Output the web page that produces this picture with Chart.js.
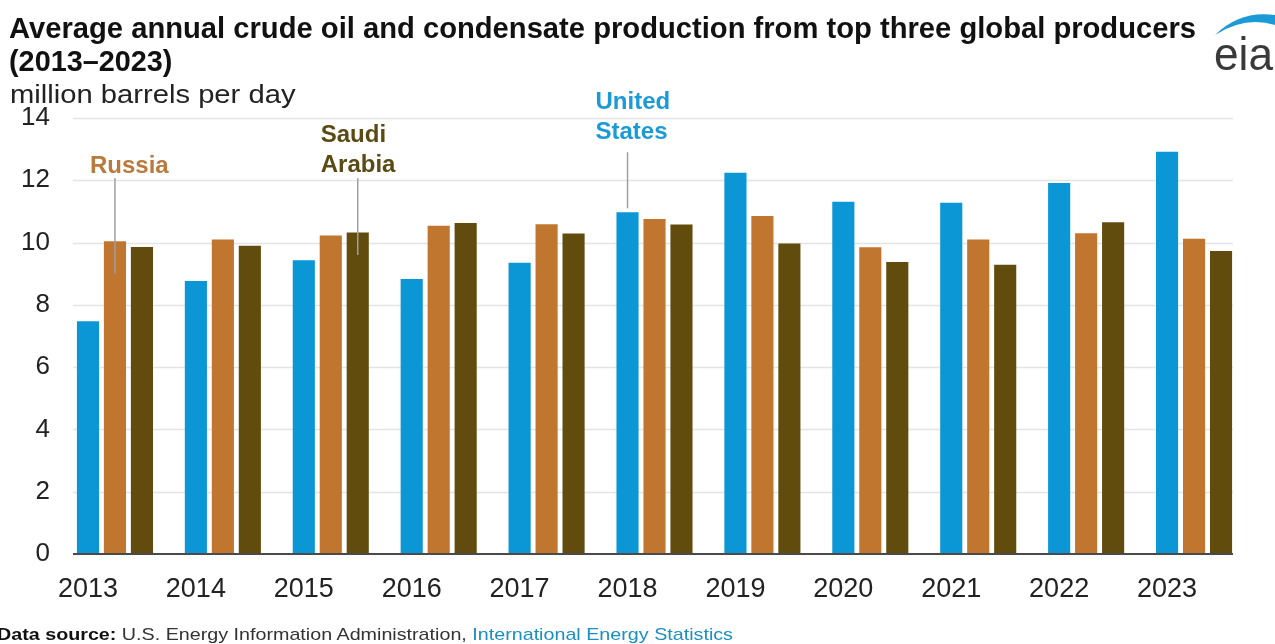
<!DOCTYPE html>
<html>
<head>
<meta charset="utf-8">
<script src="https://cdn.jsdelivr.net/npm/chart.js@4.4.0/dist/chart.umd.min.js"></script>
<style>
    html, body { margin: 0; padding: 0; background: #fff; }
    body { width: 1275px; height: 644px; position: relative; overflow: hidden; font-family: "Liberation Sans", Arial, sans-serif; }
    canvas { position: absolute; left: 0; top: 0; }
    .fit { position: absolute; white-space: nowrap; transform-origin: 0 0; line-height: 1; }
    #title1 { left: 9px; top: 14px; font-weight: bold; font-size: 29px; color: #111; }
    #title2 { left: 9px; top: 47px; font-weight: bold; font-size: 29px; color: #111; }
    #units { left: 10px; top: 82px; font-size: 25px; color: #222; }
    #source { left: -3px; top: 626px; font-size: 17px; color: #333; }
    #source b { color: #111; }
    #source span { color: #1c8fc0; }
    #logo { position: absolute; left: 1200px; top: 0; width: 75px; height: 80px; }
</style>
</head>
<body>
<canvas id="chart" width="1275" height="644"></canvas>
<div class="fit" id="title1" data-w="1187">Average annual crude oil and condensate production from top three global producers</div>
<div class="fit" id="title2" data-w="163">(2013–2023)</div>
<div class="fit" id="units" data-w="286">million barrels per day</div>
<div class="fit" id="source" data-w="736"><b>Data source:</b> U.S. Energy Information Administration, <span>International Energy Statistics</span></div>
<svg id="logo" viewBox="0 0 75 80">
    <path d="M15 35 Q40 10 75 15 L75 25 Q45 16 15 35 Z" fill="#1a9ad6"/>
    <text x="14" y="70" font-family="Liberation Sans, Arial, sans-serif" font-size="46" fill="#3a3a3a" textLength="59" lengthAdjust="spacingAndGlyphs">eia</text>
</svg>
<script>
// values, million barrels per day
const years = ['2013', '2014', '2015', '2016', '2017', '2018', '2019', '2020', '2021', '2022', '2023'];
const unitedStates = [7.47, 8.77, 9.43, 8.83, 9.35, 10.97, 12.24, 11.31, 11.28, 11.91, 12.92];
const russia = [10.04, 10.10, 10.23, 10.54, 10.59, 10.76, 10.85, 9.85, 10.10, 10.30, 10.12];
const saudiArabia = [9.86, 9.90, 10.32, 10.63, 10.29, 10.58, 9.97, 9.38, 9.29, 10.65, 9.73];
const yTicks = [0, 2, 4, 6, 8, 10, 12, 14];

const seriesNames = ['United States', 'Russia', 'Saudi Arabia'];
const seriesColors = ['#0b96d6', '#c0762f', '#624c0d'];

// callout labels: which bar they point at, where the text sits (in data units)
const callouts = [
    { lines: ['Russia'], dataset: 1, year: 0, textY: 12.46, lineTop: 12.07, lineBottom: 9.0, dx: -25, color: '#b97a3e' },
    { lines: ['Saudi', 'Arabia'], dataset: 2, year: 2, textY: 12.49, lineTop: 12.07, lineBottom: 9.6, dx: -37, color: '#5a4a14' },
    { lines: ['United', 'States'], dataset: 0, year: 5, textY: 13.55, lineTop: 12.9, lineBottom: 11.1, dx: -32, color: '#1a9ad6' }
];

document.querySelectorAll('.fit').forEach(el => {
    const target = parseFloat(el.dataset.w);
    el.style.transform = 'scaleX(' + (target / el.offsetWidth) + ')';
});

// grid lines drawn a little inside the plot, like the original
const gridPlugin = {
    id: 'grid',
    beforeDatasetsDraw(chart) {
        const { ctx, chartArea, scales } = chart;
        ctx.save();
        ctx.strokeStyle = '#e4e4e4';
        ctx.lineWidth = 1.5;
        yTicks.forEach(v => {
            if (v === 0) return;
            const y = Math.round(scales.y.getPixelForValue(v)) + 0.5;
            ctx.beginPath();
            ctx.moveTo(chartArea.left + 12, y);
            ctx.lineTo(chartArea.right - 15, y);
            ctx.stroke();
        });
        ctx.restore();
    },
    afterDatasetsDraw(chart) {
        const { ctx, chartArea, scales } = chart;
        const y = scales.y.getPixelForValue(0);
        ctx.save();
        ctx.strokeStyle = '#4a4a4a';
        ctx.lineWidth = 2;
        ctx.beginPath();
        ctx.moveTo(chartArea.left + 12, y);
        ctx.lineTo(chartArea.right - 15, y);
        ctx.stroke();

        // callouts
        ctx.font = 'bold 24px "Liberation Sans", Arial, sans-serif';
        ctx.textBaseline = 'middle';
        ctx.textAlign = 'left';
        callouts.forEach(c => {
            const bar = chart.getDatasetMeta(c.dataset).data[c.year];
            const x = bar.x;
            const yText = scales.y.getPixelForValue(c.textY);
            ctx.fillStyle = c.color;
            c.lines.forEach((line, i) => {
                const yy = yText - (c.lines.length - 1 - i) * 30;
                ctx.fillText(line, x + c.dx, yy);
            });
            ctx.strokeStyle = '#a0a0a0';
            ctx.lineWidth = 1.5;
            ctx.beginPath();
            ctx.moveTo(x, scales.y.getPixelForValue(c.lineTop));
            ctx.lineTo(x, scales.y.getPixelForValue(c.lineBottom));
            ctx.stroke();
        });
        ctx.restore();
    }
};

const fontFamily = '"Liberation Sans", Arial, sans-serif';

new Chart(document.getElementById('chart'), {
    type: 'bar',
    data: {
        labels: years,
        datasets: [unitedStates, russia, saudiArabia].map((vals, i) => ({
            label: seriesNames[i],
            data: vals,
            backgroundColor: seriesColors[i],
            borderWidth: 0,
            categoryPercentage: 0.75,
            barPercentage: 0.82
        }))
    },
    options: {
        responsive: false,
        animation: false,
        layout: { padding: { top: 118, right: 27, bottom: 0, left: 0 } },
        plugins: { legend: { display: false }, tooltip: { enabled: false } },
        scales: {
            x: {
                grid: { display: false, drawTicks: false },
                border: { display: false },
                ticks: { font: { family: fontFamily, size: 27 }, color: '#222', padding: 19, labelOffset: -27, maxRotation: 0 },
                afterFit(scale) { scale.height = 90; }
            },
            y: {
                min: 0,
                max: 14,
                grid: { display: false, drawTicks: false },
                border: { display: false },
                afterBuildTicks(scale) { scale.ticks = yTicks.map(v => ({ value: v })); },
                ticks: { font: { family: fontFamily, size: 26 }, color: '#222', padding: 11 },
                afterFit(scale) { scale.width = 61; }
            }
        }
    },
    plugins: [gridPlugin]
});
</script>
</body>
</html>
